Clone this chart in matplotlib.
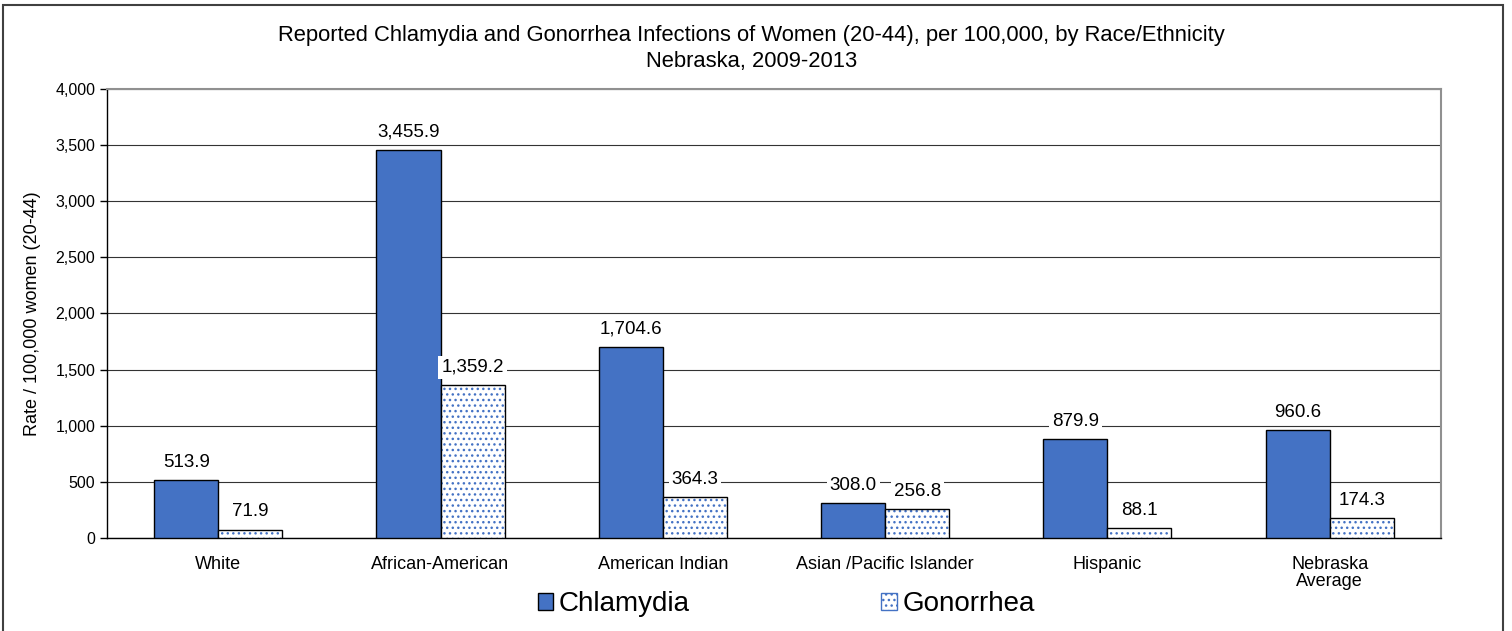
import matplotlib.pyplot as plt
import numpy as np
from matplotlib.patches import Rectangle, Patch

categories = ['White', 'African-American', 'American Indian',
              'Asian /Pacific Islander', 'Hispanic', 'Nebraska\nAverage']
chlamydia = [513.9, 3455.9, 1704.6, 308.0, 879.9, 960.6]
gonorrhea = [71.9, 1359.2, 364.3, 256.8, 88.1, 174.3]
yticks = [0, 500, 1000, 1500, 2000, 2500, 3000, 3500, 4000]

blue = '#4472C4'


def main():
    plt.rcParams['font.family'] = ['Liberation Sans', 'DejaVu Sans']
    fig = plt.figure(figsize=(15.12, 6.31), dpi=100)
    ax = fig.add_axes([0.0708, 0.1474, 0.8822, 0.7116])

    x = np.arange(len(categories))
    w = 0.288

    ax.bar(x - w / 2, chlamydia, w, color=blue, edgecolor='black', linewidth=1, zorder=3)
    # dotted fill for gonorrhea: hatch drawn in blue, outline drawn separately in black
    ax.bar(x + w / 2, gonorrhea, w, color='white', edgecolor=blue, hatch='...',
           linewidth=0, zorder=3)
    ax.bar(x + w / 2, gonorrhea, w, color='none', edgecolor='black', linewidth=1, zorder=4)

    for xi, v in zip(x, chlamydia):
        ax.text(xi - w / 2, v + 160, f'{v:,.1f}', ha='center', va='center', fontsize=13.5,
                bbox=dict(facecolor='white', edgecolor='none', pad=2), zorder=5)
    for xi, v in zip(x, gonorrhea):
        ax.text(xi + w / 2, v + 160, f'{v:,.1f}', ha='center', va='center', fontsize=13.5,
                bbox=dict(facecolor='white', edgecolor='none', pad=2), zorder=5)

    ax.set_xlim(-0.5, len(categories) - 0.5)
    ax.set_ylim(0, 4000)
    ax.set_yticks(yticks)
    ax.set_yticklabels([f'{t:,}' for t in yticks], fontsize=11.5)
    ax.set_xticks(x)
    ax.set_xticklabels(categories, fontsize=13, linespacing=1.0)
    ax.tick_params(axis='x', length=0, pad=13)
    ax.tick_params(axis='y', length=5, direction='out', width=1)
    ax.yaxis.grid(True, color='#333333', linewidth=0.8, zorder=0)
    ax.set_axisbelow(True)
    for s in ['top', 'right']:
        ax.spines[s].set_color('#909090')
        ax.spines[s].set_linewidth(1.5)
    for s in ['left', 'bottom']:
        ax.spines[s].set_color('black')
        ax.spines[s].set_linewidth(1)

    ax.set_ylabel('Rate / 100,000 women (20-44)', fontsize=13, labelpad=10)
    fig.text(0.497, 0.943, 'Reported Chlamydia and Gonorrhea Infections of Women (20-44), per 100,000, by Race/Ethnicity',
             ha='center', va='center', fontsize=15.8)
    fig.text(0.497, 0.903, 'Nebraska, 2009-2013', ha='center', va='center', fontsize=15.8)

    handles = [Patch(facecolor=blue, edgecolor='black'),
               Patch(facecolor='white', edgecolor=blue, hatch='...')]
    fig.legend(handles, ['Chlamydia', 'Gonorrhea'], loc='center', bbox_to_anchor=(0.52, 0.042),
               ncol=2, frameon=False, fontsize=20, columnspacing=6.9, handlelength=0.55,
               handleheight=0.55, handletextpad=0.2)

    fig.patches.append(Rectangle((3 / 1512, -0.05), 1500 / 1512, 1 - 5 / 631 + 0.05,
                                 transform=fig.transFigure, fill=False,
                                 edgecolor='#404040', linewidth=1.5))

    fig.savefig('out.png', dpi=100)


main()
